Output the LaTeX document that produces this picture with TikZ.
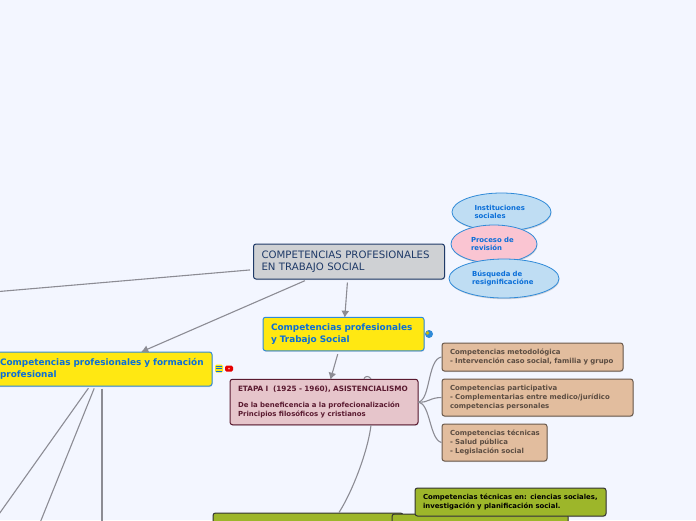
\documentclass[tikz,border=0pt]{standalone}
\usepackage{fontspec}
\setmainfont{DejaVu Sans}
\usetikzlibrary{arrows.meta,shadows,shapes.geometric}
\definecolor{pagebg}{HTML}{F3F6FF}
\definecolor{linegray}{HTML}{8C8C94}
\definecolor{rootfill}{HTML}{CFD1D4}
\definecolor{rootline}{HTML}{1F3A68}
\definecolor{yellowfill}{HTML}{FFE812}
\definecolor{blueline}{HTML}{2F8AD8}
\definecolor{bluetext}{HTML}{0A6ED8}
\definecolor{pinkfill}{HTML}{E6C5CB}
\definecolor{pinkline}{HTML}{5A1A30}
\definecolor{tanfill}{HTML}{E2BD9E}
\definecolor{tanline}{HTML}{6B5A4C}
\definecolor{greenfill}{HTML}{9DB62A}
\definecolor{skyfill}{HTML}{BFDDF3}
\definecolor{rosefill}{HTML}{FAC5D2}
\tikzset{
  box/.style={draw,line width=1pt,rounded corners=2.5pt,align=left,inner sep=0pt,anchor=center,drop shadow={shadow xshift=0.5pt,shadow yshift=-1pt,opacity=0.25}},
  rootbox/.style={box,fill=rootfill,draw=rootline,text=rootline,font=\fontsize{10.2}{12.5}\selectfont},
  yellowbox/.style={box,fill=yellowfill,draw=blueline,text=bluetext,font=\fontsize{8.9}{12}\selectfont\bfseries},
  pinkbox/.style={box,fill=pinkfill,draw=pinkline,text=pinkline,font=\fontsize{6.95}{8.8}\selectfont\bfseries},
  tanbox/.style={box,fill=tanfill,draw=tanline,text=tanline!85!black,font=\fontsize{6.95}{9}\selectfont\bfseries},
  greenbox/.style={box,fill=greenfill,draw=black!80,text=black,font=\fontsize{6.9}{9}\selectfont\bfseries},
  bubble/.style={ellipse,draw=blueline,line width=0.8pt,align=left,text=bluetext,inner sep=0pt,font=\fontsize{6.9}{8.2}\selectfont\bfseries,drop shadow={shadow xshift=0.5pt,shadow yshift=-1.2pt,opacity=0.3}},
  link/.style={draw=linegray,line width=1.1pt},
  arrowlink/.style={link,-{Latex[length=7pt,width=8pt]},shorten >=-1pt},
  iconbox/.style={inner sep=0pt,rounded corners=1.5pt}
}
\begin{document}
\begin{tikzpicture}[x=1pt,y=-1pt,>=Latex]
\useasboundingbox (0,0) rectangle (696,520);
\clip (0,0) rectangle (696,520);
\fill[pagebg] (0,0) rectangle (696,520);
\node[rootbox,minimum width=191pt,minimum height=35pt,text width=175pt] (root) at (349,261.5) {COMPETENCIAS PROFESIONALES\\EN TRABAJO SOCIAL};
\node[yellowbox,minimum width=161pt,minimum height=33.5pt,text width=145pt] (compa) at (343.5,334) {Competencias profesionales\\y Trabajo Social};
\node[yellowbox,minimum width=220pt,minimum height=34pt,text width=204pt] (compb) at (102,369) {Competencias profesionales y formación\\profesional};
\node[pinkbox,minimum width=188pt,minimum height=45.5pt,text width=172pt] (etapa) at (324,402) {{\fontsize{7.3}{8.8}\selectfont ETAPA I\ \ (1925 - 1960), ASISTENCIALISMO}\\[6.5pt]De la beneficencia a la profecionalización\\Principios filosóficos y cristianos};
\path[link] ([xshift=40pt]etapa.north) .. controls +(1,-3) and +(-2,-3) .. ([xshift=47pt]etapa.north);
\node[tanbox,minimum width=181pt,minimum height=28pt,text width=165pt] (meto) at (532.5,357) {Competencias metodológica\\- Intervención caso social, familia y grupo};
\node[tanbox,minimum width=191pt,minimum height=37pt,text width=175pt] (parti) at (537.5,397.5) {Competencias participativa\\- Complementarias entre medico/jurídico\\competencias personales};
\node[tanbox,minimum width=105pt,minimum height=37pt,text width=89pt] (tecni) at (494.5,442.5) {\mbox{Competencias técnicas}\\- Salud pública\\- Legislación social};
\node[greenbox,minimum width=190pt,minimum height=30pt] (greena) at (308,528) {};
\node[greenbox,minimum width=176pt,minimum height=30pt] (greenb) at (480,529) {};
\node[greenbox,minimum width=191pt,minimum height=28pt,text width=175pt] (greenc) at (510.5,502) {Competencias técnicas en: ciencias sociales,\\investigación y planificación social.};
\node[bubble,fill=skyfill,minimum width=99pt,minimum height=38pt,text width=54pt] (insti) at (501.5,212) {Instituciones\\sociales};
\node[bubble,fill=rosefill,minimum width=86pt,minimum height=38pt,text width=46pt] (proce) at (494,244) {Proceso de\\revisión};
\node[bubble,fill=skyfill,minimum width=110pt,minimum height=39pt,text width=64pt] (busq) at (504,278.5) {Búsqueda de\\resignificacióne};
\node[iconbox,fill=yellowfill,minimum size=8pt] (listicon) at (219,368.5) {};
\foreach \dy in {-2.5,0,2.5}
  \draw[bluetext,line width=0.9pt] ([xshift=-3pt,yshift=\dy pt]listicon.center) -- ++(6,0);
\node[iconbox,fill=red!90!black,minimum width=8pt,minimum height=6pt] (redicon) at (229,368.5) {};
\fill[red!40] (redicon.center) circle (1pt);
\node[circle,fill=blueline,inner sep=0pt,minimum size=8pt] (globeicon) at (429,334) {};
\fill[yellowfill!80!black] ([xshift=-1.5pt,yshift=1pt]globeicon.center) circle (1.8pt);
\coordinate (outa) at (-100,300);
\coordinate (outb) at (-40,569);
\coordinate (outc) at (21,570);
\coordinate (outd) at (102,570);
\path[link,shorten <=3pt] (root) -- (outa);
\path[arrowlink,shorten <=3pt] (root) -- (compb);
\path[arrowlink,shorten <=3pt] (root) -- (compa);
\path[arrowlink,shorten <=3pt] (compa) -- (etapa);
\path[link,shorten <=2pt] (compb) -- (outb);
\path[link,shorten <=2pt] (compb) -- (outc);
\path[link,shorten <=2pt] (compb) -- (outd);
\path[link] ([xshift=47pt]etapa.south) .. controls +(-3,25) and +(14,-22) .. ([xshift=31pt]greena.north);
\path[link] (etapa.east) .. controls +(12,-2) and +(-14,2) .. (meto.west);
\path[link] (etapa.east) .. controls +(10,1) and +(-12,0) .. (parti.west);
\path[link] (etapa.east) .. controls +(12,2) and +(-12,-3) .. (tecni.west);
\end{tikzpicture}
\end{document}
